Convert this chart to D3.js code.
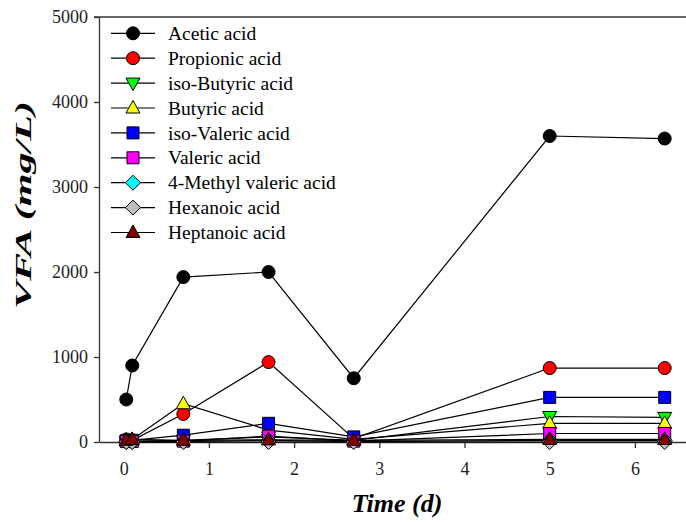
<!DOCTYPE html>
<meta charset="utf-8">
<style>
    body { margin: 0; background: #fff; }
    text { font-family: "Liberation Serif", "Times New Roman", serif; fill: #000; }
    .axis path, .axis line { stroke: #333; stroke-width: 1.3px; }
    .axis text { font-size: 18px; font-family: "Liberation Serif", "Times New Roman", serif; fill: #222; }
    .line { fill: none; stroke: #000; stroke-width: 1.2px; }
</style>
<svg width="686" height="522"></svg>
<script src="https://cdn.jsdelivr.net/npm/d3@7"></script>
<script>
    // sampling times (d)
    var times = [0.03, 0.1, 0.7, 1.7, 2.7, 5.0, 6.35];

    // VFA concentrations (mg/L)
    var acetic      = [500, 900, 1940, 2000, 750, 3600, 3570];
    var propionic   = [30, 20, 330, 940, 40, 870, 870];
    var isoButyric  = [10, 10, 20, 60, 20, 300, 290];
    var butyric     = [20, 30, 450, 140, 30, 220, 220];
    var isoValeric  = [15, 20, 80, 220, 60, 525, 525];
    var valeric     = [5, 5, 10, 70, 10, 100, 100];
    var methylValer = [0, 0, 5, 20, 5, 20, 20];
    var hexanoic    = [0, 0, 0, 0, 0, 0, 0];
    var heptanoic   = [20, 30, 20, 25, 20, 30, 30];

    var names = ["Acetic acid", "Propionic acid", "iso-Butyric acid", "Butyric acid",
                 "iso-Valeric acid", "Valeric acid", "4-Methyl valeric acid",
                 "Hexanoic acid", "Heptanoic acid"];
    var colors = ["#000000", "#ff0000", "#00ff00", "#ffff00", "#0000ff",
                  "#ff00ff", "#00ffff", "#c0c0c0", "#800000"];
    var shapes = ["circle", "circle", "triDown", "triUp", "square",
                  "square", "diamond", "diamond", "triUp"];
    var yTicks = [0, 1000, 2000, 3000, 4000, 5000];
    var xTicks = [0, 1, 2, 3, 4, 5, 6];

    var values = [acetic, propionic, isoButyric, butyric, isoValeric,
                  valeric, methylValer, hexanoic, heptanoic];
    var series = names.map(function (n, i) {
        return {
            id: n, color: colors[i], shape: shapes[i],
            values: times.map(function (t, j) { return {t: t, v: values[i][j]}; })
        };
    });

    var svg = d3.select("svg");
    var plot = {left: 99, right: 686, top: 17, bottom: 442};

    var x = d3.scaleLinear().domain([-0.29, 6.6]).range([plot.left, plot.right]),
        y = d3.scaleLinear().domain([0, 5000]).range([plot.bottom, plot.top]);

    // marker path generator, centred at 0,0
    function marker(shape) {
        switch (shape) {
            case "circle": return "M-6.5,0A6.5,6.5 0 1,0 6.5,0A6.5,6.5 0 1,0 -6.5,0Z";
            case "square": return "M-6,-6H6V6H-6Z";
            case "triUp": return "M0,-7.5L7,5L-7,5Z";
            case "triDown": return "M0,7.5L7,-5L-7,-5Z";
            case "diamond": return "M0,-7.5L7.5,0L0,7.5L-7.5,0Z";
        }
    }

    // frame top
    svg.append("line")
        .attr("x1", plot.left - 5).attr("x2", plot.right)
        .attr("y1", plot.top).attr("y2", plot.top)
        .attr("stroke", "#333").attr("stroke-width", 1.3);

    svg.append("g")
        .attr("class", "axis")
        .attr("transform", "translate(0," + plot.bottom + ")")
        .call(d3.axisBottom(x).tickValues(xTicks).tickFormat(d3.format("d"))
            .tickSize(6).tickSizeOuter(0).tickPadding(14));

    svg.append("g")
        .attr("class", "axis")
        .attr("transform", "translate(" + plot.left + ",0)")
        .call(d3.axisLeft(y).tickValues(yTicks).tickFormat(d3.format("d"))
            .tickSize(5).tickSizeOuter(0).tickPadding(6));

    var line = d3.line()
        .x(function (d) { return x(d.t); })
        .y(function (d) { return y(d.v); });

    var sg = svg.selectAll(".series")
        .data(series)
        .enter().append("g")
        .attr("class", "series");

    sg.append("path")
        .attr("class", "line")
        .attr("d", function (d) { return line(d.values); });

    sg.each(function (s) {
        d3.select(this).selectAll(".pt")
            .data(s.values)
            .enter().append("path")
            .attr("class", "pt")
            .attr("transform", function (d) { return "translate(" + x(d.t) + "," + y(d.v) + ")"; })
            .attr("d", marker(s.shape))
            .attr("fill", s.color)
            .attr("stroke", "#000")
            .attr("stroke-width", 1);
    });

    // legend
    var legend = svg.selectAll(".legend")
        .data(series)
        .enter().append("g")
        .attr("class", "legend")
        .attr("transform", function (d, i) { return "translate(0," + (33.3 + i * 24.9) + ")"; });

    legend.append("line")
        .attr("x1", 111).attr("x2", 155)
        .attr("stroke", "#000").attr("stroke-width", 1.2);

    legend.append("path")
        .attr("transform", "translate(133,0)")
        .attr("d", function (d) { return marker(d.shape); })
        .attr("fill", function (d) { return d.color; })
        .attr("stroke", "#000");

    legend.append("text")
        .attr("x", 168)
        .attr("dy", "0.34em")
        .style("font-size", "19.5px")
        .text(function (d) { return d.id; });

    // axis titles
    svg.append("text")
        .attr("x", 397).attr("y", 512)
        .attr("text-anchor", "middle")
        .style("font-size", "26px").style("font-weight", "bold").style("font-style", "italic")
        .text("Time (d)");

    svg.append("text")
        .attr("transform", "translate(31,205) rotate(-90)")
        .attr("text-anchor", "middle")
        .attr("textLength", 208)
        .attr("lengthAdjust", "spacingAndGlyphs")
        .style("font-size", "24px").style("font-weight", "bold").style("font-style", "italic")
        .text("VFA (mg/L)");
</script>
